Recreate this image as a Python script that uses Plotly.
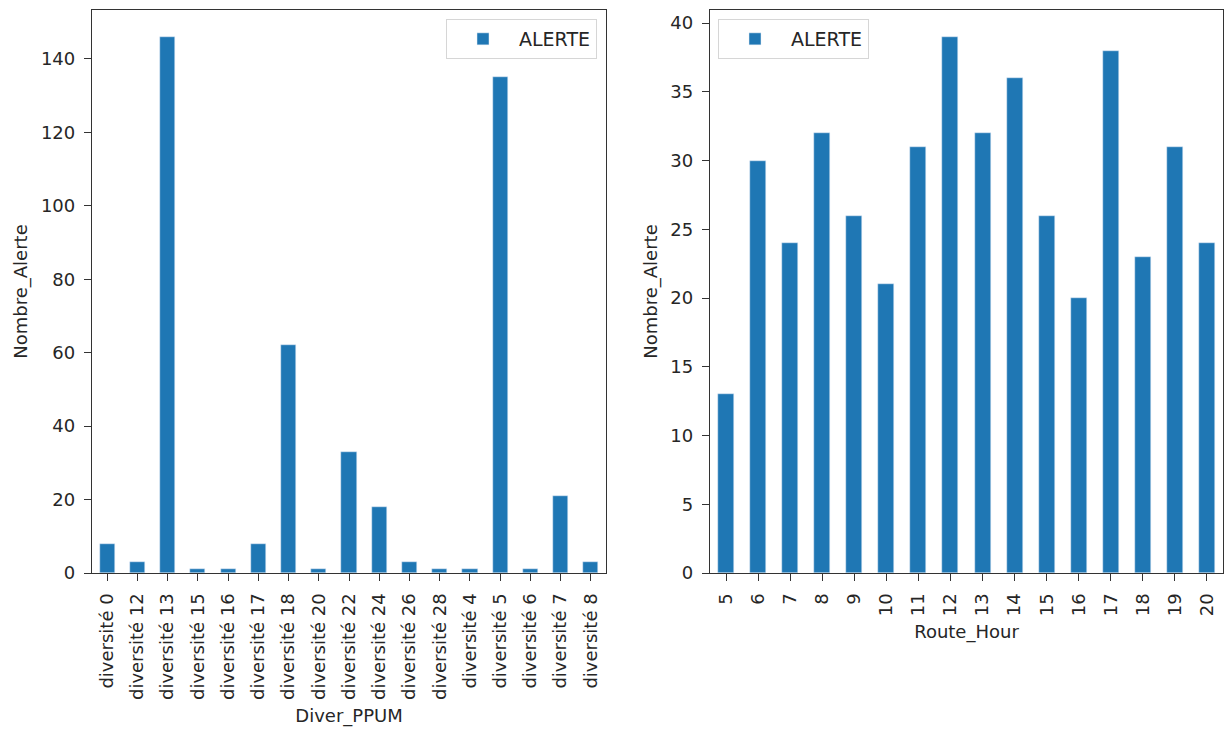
import plotly.graph_objects as go

# Data
diver_categories = ["diversité 0", "diversité 12", "diversité 13", "diversité 15", "diversité 16",
                    "diversité 17", "diversité 18", "diversité 20", "diversité 22", "diversité 24",
                    "diversité 26", "diversité 28", "diversité 4", "diversité 5", "diversité 6",
                    "diversité 7", "diversité 8"]
diver_alerte = [8, 3, 146, 1, 1, 8, 62, 1, 33, 18, 3, 1, 1, 135, 1, 21, 3]

hour_categories = ["5", "6", "7", "8", "9", "10", "11", "12", "13", "14", "15", "16", "17", "18", "19", "20"]
hour_alerte = [13, 30, 24, 32, 26, 21, 31, 39, 32, 36, 26, 20, 38, 23, 31, 24]

BAR = "#1f77b4"
TXT = "#262626"
FONT = "DejaVu Sans"
FS = 18

W, H = 1225, 738


def px(x):
    return x / W


def py(y):
    return 1 - y / H


fig = go.Figure()
fig.add_trace(go.Bar(x=diver_categories, y=diver_alerte, name="ALERTE", marker_color=BAR,
                     width=0.5, xaxis="x", yaxis="y", legend="legend", showlegend=True))
fig.add_trace(go.Bar(x=hour_categories, y=hour_alerte, name="ALERTE", marker_color=BAR,
                     width=0.5, xaxis="x2", yaxis="y2", legend="legend2", showlegend=True))

axis_common = dict(showline=True, linecolor="#333", linewidth=1.3, mirror=True,
                   ticks="outside", ticklen=7, tickwidth=1.2, tickcolor="#333",
                   ticklabelstandoff=5, automargin=False,
                   showgrid=False, zeroline=False,
                   tickfont=dict(family=FONT, size=FS, color=TXT),
                   title_font=dict(family=FONT, size=FS, color=TXT))

legend_common = dict(bgcolor="rgba(255,255,255,0.8)", bordercolor="#d6d6d6", borderwidth=1,
                     itemwidth=62, visible=True, yanchor="top",
                     font=dict(family=FONT, size=19, color=TXT))

fig.update_layout(
    width=W, height=H,
    margin=dict(l=0, r=0, t=0, b=0),
    paper_bgcolor="white", plot_bgcolor="white",
    font=dict(family=FONT, size=FS, color=TXT),
    bargap=0,
    showlegend=True,
    xaxis=dict(domain=[px(92), px(606)], type="category", tickangle=-90,
               title=dict(text="Diver_PPUM", standoff=10), anchor="y", **axis_common),
    yaxis=dict(domain=[py(573), py(10)], range=[0, 153.3], dtick=20,
               title=dict(text="Nombre_Alerte", standoff=8), anchor="x", **axis_common),
    xaxis2=dict(domain=[px(710), px(1223)], type="category", tickangle=-90,
                title=dict(text="Route_Hour", standoff=10), anchor="y2", **axis_common),
    yaxis2=dict(domain=[py(573), py(10)], range=[0, 40.95], dtick=5,
                title=dict(text="Nombre_Alerte", standoff=8), anchor="x2", **axis_common),
    legend=dict(x=px(597), y=py(19), xanchor="right", **legend_common),
    legend2=dict(x=px(718), y=py(19), xanchor="left", **legend_common),
)

fig.write_html("out.html", config={"displayModeBar": False},
               post_script="document.body.style.margin='0';document.body.style.overflow='hidden';")
